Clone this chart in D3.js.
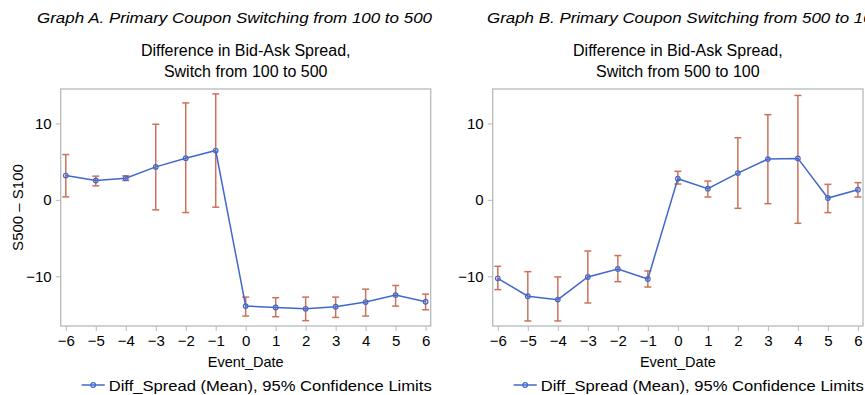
<!DOCTYPE html>
<html lang="en"><head>
<meta charset="utf-8">
<title>Difference in Bid-Ask Spread</title>
<script src="https://cdn.jsdelivr.net/npm/d3@7"></script>
<style>
  body { margin: 0; background: #fff; }
  text { font-family: "Liberation Sans", Arial, sans-serif; fill: #000; }
</style>
</head>
<body>
<script>
// data
var eventDates = [-6, -5, -4, -3, -2, -1, 0, 1, 2, 3, 4, 5, 6];

var meanA  = [3.18, 2.53, 2.83, 4.31, 5.45, 6.45, -13.9, -14.07, -14.25, -13.98, -13.37, -12.46, -13.33];
var upperA = [5.93, 3.10, 3.14, 9.89, 12.68, 13.86, -12.72, -12.8, -12.72, -12.72, -11.68, -11.2, -12.33];
var lowerA = [0.39, 1.83, 2.53, -1.31, -1.66, -0.96, -15.2, -15.29, -15.8, -15.38, -15.2, -13.9, -14.38];

var meanB  = [-10.26, -12.61, -13.05, -10.09, -9.04, -10.35, 2.77, 1.46, 3.5, 5.33, 5.42, 0.24, 1.33];
var upperB = [-8.69, -9.39, -10.09, -6.69, -7.29, -9.3, 3.73, 2.46, 8.13, 11.14, 13.66, 2.03, 2.25];
var lowerB = [-11.74, -15.84, -15.84, -13.49, -10.7, -11.4, 2.07, 0.37, -1.11, -0.5, -3.07, -1.67, 0.37];

var yTicks = [-10, 0, 10];
var graphTitles = ["Graph A. Primary Coupon Switching from 100 to 500", "Graph B. Primary Coupon Switching from 500 to 100"];
var chartTitles = [["Difference in Bid-Ask Spread,", "Switch from 100 to 500"], ["Difference in Bid-Ask Spread,", "Switch from 500 to 100"]];
var legendText = "Diff_Spread (Mean), 95% Confidence Limits";

var width = 865, height = 395;
var lineColor = "#4068cc", errColor = "#cc7259", frameColor = "#b4babd";

var svg = d3.select("body").append("svg").attr("width", width).attr("height", height);

var panels = [
  {left: 60.7, right: 430.7, mean: meanA, upper: upperA, lower: lowerA, titleX: 37},
  {left: 492.7, right: 863, mean: meanB, upper: upperB, lower: lowerB, titleX: 487}
];
var plotTop = 89, plotBottom = 326;

panels.forEach(function(p, k) {
  var g = svg.append("g");
  var x = d3.scaleLinear().domain([-6.17, 6.17]).range([p.left, p.right]);
  var y = d3.scaleLinear().domain([-16.5, 14.5]).range([plotBottom, plotTop]);
  var cx = (p.left + p.right) / 2;

  g.append("text").attr("x", p.titleX).attr("y", 23)
    .attr("font-size", "14.5px").attr("font-style", "italic")
    .attr("textLength", 395).attr("lengthAdjust", "spacingAndGlyphs")
    .text(graphTitles[k]);

  g.selectAll(".ct").data(chartTitles[k]).enter().append("text")
    .attr("x", cx).attr("y", function(d, i) { return 56 + i * 21; })
    .attr("text-anchor", "middle").attr("font-size", "16px").text(function(d) { return d; });

  // frame
  g.append("rect").attr("x", p.left).attr("y", plotTop)
    .attr("width", p.right - p.left).attr("height", plotBottom - plotTop)
    .attr("fill", "none").attr("stroke", frameColor).attr("stroke-width", 1.3);

  var yAxis = g.append("g").attr("transform", "translate(" + p.left + ",0)")
    .call(d3.axisLeft(y).tickValues(yTicks).tickSize(5).tickPadding(4));
  var xAxis = g.append("g").attr("transform", "translate(0," + plotBottom + ")")
    .call(d3.axisBottom(x).tickValues(eventDates).tickSize(5).tickPadding(4));
  [xAxis, yAxis].forEach(function(a) {
    a.select(".domain").remove();
    a.selectAll(".tick line").attr("stroke", frameColor);
    a.selectAll(".tick text").attr("font-size", "15px").attr("fill", "#000")
      .style("font-family", "'Liberation Sans', Arial, sans-serif");
  });

  g.append("text").attr("x", cx).attr("y", 367).attr("text-anchor", "middle")
    .attr("font-size", "14.5px").text("Event_Date");

  if (k === 0) {
    g.append("text").attr("transform", "translate(23," + ((plotTop + plotBottom) / 2) + ") rotate(-90)")
      .attr("text-anchor", "middle").attr("font-size", "15px").text("S500 \u2013 S100");
  }

  // error bars
  var eb = g.selectAll(".eb").data(eventDates).enter().append("g")
    .attr("stroke", errColor).attr("stroke-width", 1.5);
  eb.append("line")
    .attr("x1", function(d) { return x(d); }).attr("x2", function(d) { return x(d); })
    .attr("y1", function(d, i) { return y(p.upper[i]); }).attr("y2", function(d, i) { return y(p.lower[i]); });
  eb.append("line")
    .attr("x1", function(d) { return x(d) - 3.5; }).attr("x2", function(d) { return x(d) + 3.5; })
    .attr("y1", function(d, i) { return y(p.upper[i]); }).attr("y2", function(d, i) { return y(p.upper[i]); });
  eb.append("line")
    .attr("x1", function(d) { return x(d) - 3.5; }).attr("x2", function(d) { return x(d) + 3.5; })
    .attr("y1", function(d, i) { return y(p.lower[i]); }).attr("y2", function(d, i) { return y(p.lower[i]); });

  var line = d3.line().x(function(d) { return x(d); }).y(function(d, i) { return y(p.mean[i]); });
  g.append("path").datum(eventDates).attr("d", line)
    .attr("fill", "none").attr("stroke", lineColor).attr("stroke-width", 1.5);

  g.selectAll(".pt").data(eventDates).enter().append("circle")
    .attr("cx", function(d) { return x(d); }).attr("cy", function(d, i) { return y(p.mean[i]); })
    .attr("r", 2.3).attr("fill", "none").attr("stroke", lineColor).attr("stroke-width", 1.2);

  // legend
  var lx = p.left + 21, ly = 385;
  g.append("line").attr("x1", lx).attr("x2", lx + 23).attr("y1", ly).attr("y2", ly)
    .attr("stroke", lineColor).attr("stroke-width", 1.5);
  g.append("circle").attr("cx", lx + 11.5).attr("cy", ly).attr("r", 2.3)
    .attr("fill", "none").attr("stroke", lineColor).attr("stroke-width", 1.2);
  g.append("text").attr("x", lx + 27).attr("y", ly + 5.5).attr("font-size", "15.5px")
    .attr("textLength", 323).attr("lengthAdjust", "spacingAndGlyphs").text(legendText);
});
</script>
</body>
</html>
